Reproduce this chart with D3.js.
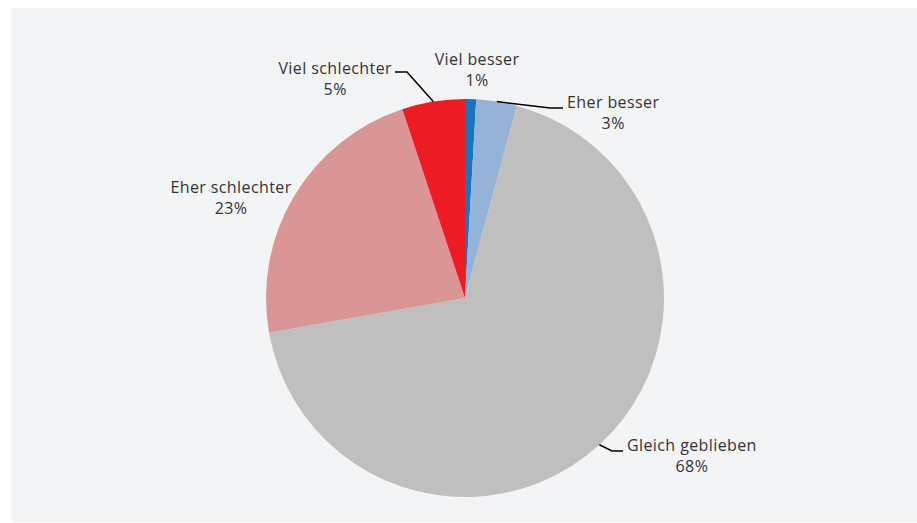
<!DOCTYPE html>
<html>
<head>
<meta charset="utf-8">
<script src="https://cdn.jsdelivr.net/npm/d3@7"></script>
<style>
  html, body { margin: 0; padding: 0; background: #ffffff; }
  #chart { width: 917px; height: 523px; }
  text { font-family: "Open Sans", "Liberation Sans", sans-serif; font-size: 16px; letter-spacing: 0.4px; fill: #333333; }
</style>
</head>
<body>
<div id="chart"></div>
<script>
// slices, clockwise from 12 o'clock
var categories = ["Viel besser", "Eher besser", "Gleich geblieben", "Eher schlechter", "Viel schlechter"];
var shares = [0.9, 3.3, 68.0, 22.7, 5.1];
var colors = ["#1874bc", "#95b3d7", "#bfbfbf", "#d99694", "#ed1c24"];

// label placement (label anchor point, optional elbow for leader line)
var labelSpots = [
    { x: 477, y: 65, anchor: "middle", leader: null },
    { x: 567, y: 108, anchor: "start", leader: [[550, 108], [563, 108]] },
    { x: 627, y: 451, anchor: "start", leader: [[612, 451], [623, 451]] },
    { x: 231, y: 193, anchor: "middle", leader: null },
    { x: 392, y: 74, anchor: "end", leader: [[407, 72], [395, 72]] }
];

function drawPie() {
    var width = 917, height = 523;
    var svg = d3.select("#chart").append("svg")
        .attr("width", width)
        .attr("height", height);

    // light panel
    svg.append("rect")
        .attr("x", 11).attr("y", 8)
        .attr("width", width - 11).attr("height", 514)
        .attr("fill", "#f3f4f6");

    var cx = 465, cy = 298, radius = 199;
    var data = categories.map(function(c, i) {
        return { name: c, value: shares[i], color: colors[i], spot: labelSpots[i] };
    });

    var pie = d3.pie()
        .sort(null)
        .value(function(d) { return d.value; });

    var arc = d3.arc()
        .innerRadius(0)
        .outerRadius(radius);

    var g = svg.append("g").attr("transform", "translate(" + cx + "," + cy + ")");
    var slices = pie(data);

    g.selectAll(".slice")
        .data(slices)
        .enter().append("path")
        .attr("class", "slice")
        .attr("d", arc)
        .attr("fill", function(d) { return d.data.color; });

    // leader lines
    var line = d3.line();
    slices.forEach(function(d) {
        var spot = d.data.spot;
        if (!spot.leader) return;
        var mid = (d.startAngle + d.endAngle) / 2;
        var p0 = [cx + radius * Math.sin(mid), cy - radius * Math.cos(mid)];
        svg.append("path")
            .attr("d", line([p0].concat(spot.leader)))
            .attr("fill", "none")
            .attr("stroke", "#000")
            .attr("stroke-width", 1.5);
    });

    var fmt = function(v) { return Math.round(v) + "%"; };

    var labels = svg.selectAll(".lbl")
        .data(slices)
        .enter().append("g")
        .attr("class", "lbl");

    labels.each(function(d) {
        var spot = d.data.spot;
        var t = d3.select(this).append("text")
            .attr("x", spot.x)
            .attr("y", spot.y)
            .attr("text-anchor", spot.anchor)
            .text(d.data.name);
        var w = t.node().getComputedTextLength();
        var midX = spot.anchor === "middle" ? spot.x : (spot.anchor === "start" ? spot.x + w / 2 : spot.x - w / 2);
        d3.select(this).append("text")
            .attr("x", midX)
            .attr("y", spot.y + 21)
            .attr("text-anchor", "middle")
            .text(fmt(d.data.value));
    });
}

drawPie();
</script>
</body>
</html>
